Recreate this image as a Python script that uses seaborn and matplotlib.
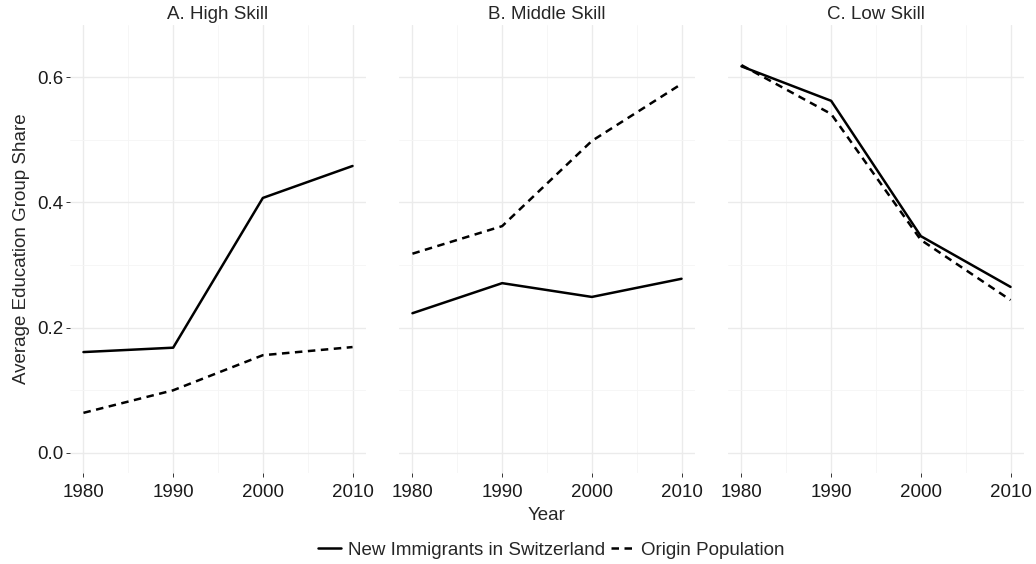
import numpy as np
import pandas as pd
import matplotlib.pyplot as plt
import seaborn as sns
from matplotlib.lines import Line2D
from matplotlib.ticker import MultipleLocator

# data
years = [1980, 1990, 2000, 2010]
panels = ["A. High Skill", "B. Middle Skill", "C. Low Skill"]
immig_high = [0.161, 0.168, 0.407, 0.458]
origin_high = [0.064, 0.100, 0.156, 0.169]
immig_mid = [0.223, 0.271, 0.249, 0.278]
origin_mid = [0.318, 0.362, 0.498, 0.589]
immig_low = [0.617, 0.562, 0.346, 0.265]
origin_low = [0.619, 0.541, 0.340, 0.244]
series_names = ["New Immigrants in Switzerland", "Origin Population"]

rows = []
for panel, imm, ori in zip(panels, [immig_high, immig_mid, immig_low],
                           [origin_high, origin_mid, origin_low]):
    for yr, a, b in zip(years, imm, ori):
        rows.append({"panel": panel, "year": yr, "share": a, "group": series_names[0]})
        rows.append({"panel": panel, "year": yr, "share": b, "group": series_names[1]})
df = pd.DataFrame(rows)

sns.set_style("white")
plt.rcParams['font.family'] = ['Liberation Sans', 'DejaVu Sans']
fs = 13.5

fig = plt.figure(figsize=(10.36, 5.64), dpi=100)
W, H = 1036, 564
lefts = [70, 399, 728]
pw = 296
bottom_px, top_px = 473, 25

dash_map = {series_names[0]: "", series_names[1]: (3, 2.2)}

for i, panel in enumerate(panels):
    ax = fig.add_axes([lefts[i] / W, 1 - bottom_px / H, pw / W, (bottom_px - top_px) / H])
    sub = df[df["panel"] == panel]
    sns.lineplot(data=sub, x="year", y="share", style="group", dashes=dash_map,
                 color="black", linewidth=1.8, legend=False, ax=ax)
    ax.set_xlim(1978.5, 2011.5)
    ax.set_ylim(-0.032, 0.683)
    ax.set_xticks(years)
    ax.set_yticks([0.0, 0.2, 0.4, 0.6])
    ax.xaxis.set_minor_locator(MultipleLocator(5))
    ax.yaxis.set_minor_locator(MultipleLocator(0.1))
    ax.grid(which="major", color="#EBEBEB", linewidth=1.0)
    ax.grid(which="minor", color="#F5F5F5", linewidth=0.6)
    ax.set_axisbelow(True)
    for s in ax.spines.values():
        s.set_visible(False)
    ax.tick_params(axis="both", which="major", length=3, width=0.7, color="#333333",
                   labelsize=fs, labelcolor="#1A1A1A", pad=2, bottom=True, left=True)
    ax.tick_params(axis="x", which="major", pad=5)
    ax.tick_params(which="minor", length=0)
    ax.set_yticklabels(["0.0", "0.2", "0.4", "0.6"])
    ax.set_title(panel, fontsize=fs, pad=4)
    if i == 0:
        ax.set_ylabel("Average Education Group Share", fontsize=fs, labelpad=5)
    else:
        ax.set_ylabel("")
        ax.tick_params(axis="y", left=False, labelleft=False)
    if i == 1:
        ax.set_xlabel("Year", fontsize=fs, labelpad=4)
    else:
        ax.set_xlabel("")

handles = [Line2D([0], [0], color="black", linewidth=1.8),
           Line2D([0], [0], color="black", linewidth=1.8, dashes=(3, 2.2))]
fig.legend(handles, series_names, loc="center", bbox_to_anchor=(0.532, 1 - 550 / H),
           ncol=2, frameon=False, handlelength=1.2, handletextpad=0.4,
           columnspacing=0.3, fontsize=fs)

fig.savefig("out.png", dpi=100)
